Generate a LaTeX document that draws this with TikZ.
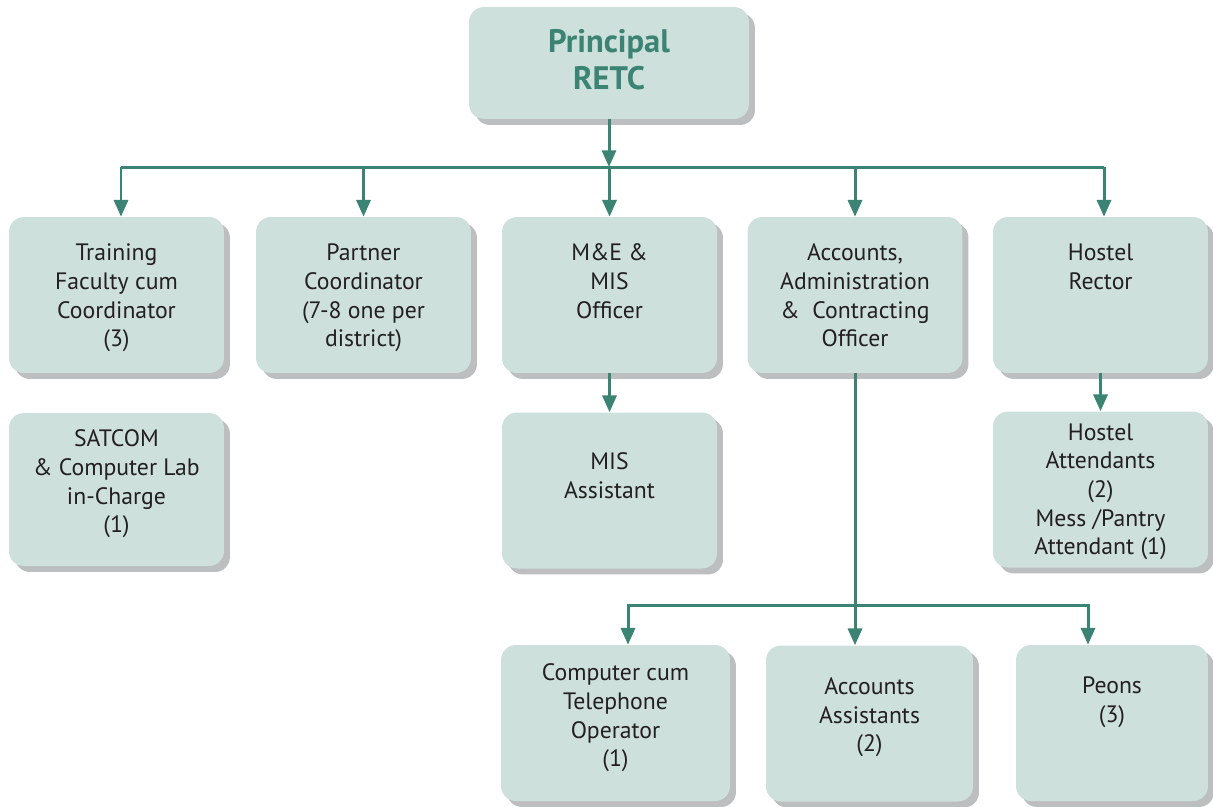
\documentclass[tikz,border=0pt]{standalone}
\usepackage{fontspec}
\setmainfont{PT Sans}
\usetikzlibrary{positioning,shadows,arrows.meta}

\definecolor{boxfill}{HTML}{CDE0DB}
\definecolor{shadowgrey}{HTML}{BCBEC0}
\definecolor{linkgreen}{HTML}{3B8373}
\definecolor{textdark}{HTML}{231F20}

\begin{document}
\begin{tikzpicture}[x=0.02cm,y=-0.02cm]

\tikzset{
    orgbox/.style={
        rectangle,
        rounded corners=8.5pt,
        fill=boxfill,
        draw=none,
        minimum width=4.3cm,
        minimum height=3.12cm,
        inner sep=0pt,
        drop shadow={shadow xshift=3.4pt, shadow yshift=-3.4pt,
            fill=shadowgrey, opacity=1}
    },
    orgtext/.style={
        align=center,
        inner sep=0pt,
        text=textdark,
        font=\fontsize{13.5}{16.3}\selectfont
    },
    headtext/.style={
        orgtext,
        text=linkgreen,
        font=\fontsize{18.5}{21.4}\selectfont\bfseries
    },
    link/.style={
        draw=linkgreen,
        line width=1.7pt
    },
    conn/.style={
        link,
        -{Triangle[width=8pt,length=9.5pt]}
    }
}

\useasboundingbox (0,0) rectangle (1213,806);

% head
\node(principal) [orgbox, minimum width=5.6cm, minimum height=2.24cm] at (609,63) {};
\node(principal t) [headtext, below=0.44cm of principal.north] {Principal\\RETC};

% first level
\node(tfc) [orgbox] at (116.5,295) {};
\node(tfc t) [orgtext, below=0.54cm of tfc.north] {Training\\Faculty cum\\Coordinator\\(3)};

\node(pc) [orgbox] at (363.5,295) {};
\node(pc t) [orgtext, below=0.54cm of pc.north] {Partner\\Coordinator\\(7-8 one per\\district)};

\node(mne) [orgbox] at (609.5,295) {};
\node(mne t) [orgtext, below=0.54cm of mne.north] {M\&E \&\\MIS\\Officer};

\node(aao) [orgbox] at (855,295) {};
\node(aao t) [orgtext, below=0.54cm of aao.north] {Accounts,\\Administration\\\&~~Contracting\\Officer};

\node(hr) [orgbox] at (1100.5,295) {};
\node(hr t) [orgtext, below=0.54cm of hr.north] {Hostel\\Rector};

% second level
\node(satcom) [orgbox, minimum height=3.06cm] at (116.5,489.5) {};
\node(satcom t) [orgtext, below=0.34cm of satcom.north] {SATCOM\\\& Computer Lab\\in-Charge\\(1)};

\node(misa) [orgbox] at (609.5,490.5) {};
\node(misa t) [orgtext, below=0.8cm of misa.north] {MIS\\Assistant};

\node(ha) [orgbox] at (1100.5,489.5) {};
\node(ha t) [orgtext, below=0.24cm of ha.north] {Hostel\\Attendants\\(2)\\Mess /Pantry\\Attendant (1)};

% third level
\node(cto) [orgbox, minimum width=4.58cm] at (615.5,723) {};
\node(cto t) [orgtext, below=0.38cm of cto.north] {Computer cum\\Telephone\\Operator\\(1)};

\node(aa) [orgbox, minimum width=4.14cm] at (869.5,723.5) {};
\node(aa t) [orgtext, below=0.64cm of aa.north] {Accounts\\Assistants\\(2)};

\node(peons) [orgbox, minimum width=3.84cm] at (1112,723) {};
\node(peons t) [orgtext, below=0.64cm of peons.north] {Peons\\(3)};

% connectors
\coordinate (bus) at (609,167);
\coordinate (bus2) at (854,605);

\draw[conn] (principal) -- (bus);
\draw[link] ([xshift=0.09cm]tfc.north |- bus) -- ([xshift=0.07cm]hr.north |- bus);
\draw[conn] ([xshift=0.09cm]tfc.north |- bus) -- ([xshift=0.09cm]tfc.north);
\foreach \n in {pc,mne,aao}
    \draw[conn] (\n.north |- bus) -- (\n.north);
\draw[conn] ([xshift=0.07cm]hr.north |- bus) -- ([xshift=0.07cm]hr.north);

\draw[conn] (mne) -- (misa);
\draw[conn] (hr) -- (ha);

\draw[conn] (aao.south) -- (aao.south |- aa.north);
\draw[conn] (bus2) -| ([xshift=0.25cm]cto.north);
\draw[conn] (bus2) -| ([xshift=-0.48cm]peons.north);

\end{tikzpicture}
\end{document}
